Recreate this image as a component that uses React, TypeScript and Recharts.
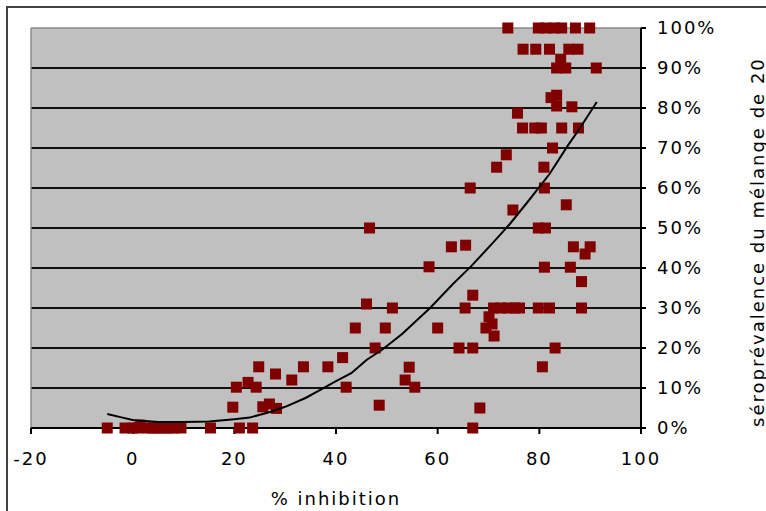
import React from 'react';
import { ScatterChart, Scatter, XAxis, YAxis, CartesianGrid, ReferenceLine, Label } from 'recharts';

const inhibition = [
  -5, -1.5, 0, 1, 1.5, 3, 4, 5, 6, 7, 8, 9.5, 15.3, 21, 23.6, 66.9,
  19.7, 20.4, 22.7, 24.3, 24.8, 25.6, 26.9, 28.3, 28.1, 31.3, 33.6, 38.4, 41.3, 42,
  43.8, 46, 46.6, 47.7, 48.5, 49.7, 51.1, 53.6, 54.4, 55.5, 58.3, 60, 62.7, 64.2,
  65.4, 65.5, 66.4, 66.9, 66.9, 68.3, 69.5, 70.1, 70.7, 71.1, 71, 72.4, 71.6, 73.8,
  73.5, 73.8, 74.8, 75.2, 76.1, 75.7, 76.7, 76.8, 79.1, 80.4, 79.3, 79.8, 81.3, 82.9,
  84.4, 87.1, 89.9, 82, 85.8, 87.6, 84.2, 83.4, 85.2, 91.2, 83.4, 82.3, 83.4, 86.4,
  84.4, 87.7, 82.6, 80.9, 81, 85.3, 79.8, 81.2, 86.7, 90, 89, 81, 86.1, 88.3,
  79.8, 82, 88.3, 83.1, 80.6,
];
const seroprevalence = [
  0, 0, 0, 0, 0.7, 0, 0, 0, 0, 0, 0, 0, 0, 0, 0, 0,
  5.2, 10.2, 11.4, 10.2, 15.3, 5.3, 6, 4.9, 13.5, 12, 15.3, 15.3, 17.6, 10.2,
  25, 31, 50, 20, 5.7, 25, 30, 12, 15.2, 10.2, 40.3, 25, 45.3, 20,
  30, 45.7, 60, 33.2, 20, 5, 25, 27.8, 26, 23, 30, 30, 65.2, 30,
  68.3, 100, 54.5, 30, 30, 78.7, 75, 94.7, 75, 75, 94.7, 100, 100, 100,
  100, 100, 100, 94.7, 94.7, 94.7, 92.2, 90, 90, 90, 83.2, 82.6, 80.5, 80.3,
  75, 75, 70, 65.2, 60, 55.8, 50, 50, 45.3, 45.3, 43.5, 40.2, 40.2, 36.6,
  30, 30, 30, 20, 15.3,
];

const trendX = [-5, -2, 0, 5, 10, 15, 20, 23, 27, 30, 34, 37, 40, 43, 46, 49, 53, 58.5, 63, 66.7, 71.3, 74.2, 78, 82, 85.6, 88, 91.3];
const trendY = [3.5, 2.6, 2, 1.5, 1.5, 1.6, 2.2, 2.6, 4, 5.3, 7.5, 9.6, 11.7, 13.7, 17, 19.5, 23.5, 30, 36, 40.6, 46.9, 51, 57, 63.5, 70.6, 75, 81.5];

const xTicks = [-20, 0, 20, 40, 60, 80, 100];
const yTicks = [0, 10, 20, 30, 40, 50, 60, 70, 80, 90, 100];
const gridValues = [10, 20, 30, 40, 50, 60, 70, 80, 90];

const xTitle = '% inhibition';
const yTitle = 'séroprévalence du mélange de 20';

const points = inhibition.map((x, i) => ({ x, y: seroprevalence[i] }));
const trend = trendX.map((x, i) => ({ x, y: trendY[i] }));

const FONT = 'DejaVu Sans, Verdana, sans-serif';

const Square = (p: any) => (
  <rect x={p.cx - 5.5} y={p.cy - 5.5} width={11} height={11} fill="#800000" />
);
const NoShape = () => <g />;

export default function App() {
  return (
    <div style={{ position: 'absolute', left: 0, top: 0, width: 766, height: 511, overflow: 'hidden', background: '#fff' }}>
      <div style={{ position: 'absolute', left: 6, top: 6, width: 800, height: 560, borderLeft: '2px solid #404040', borderTop: '2px solid #404040' }} />
      <div style={{ position: 'absolute', left: 0, top: 0 }}>
        <ScatterChart width={766} height={511} margin={{ top: 28, right: 0, bottom: 0, left: 31 }}>
          <CartesianGrid
            fill="#C0C0C0"
            fillOpacity={1}
            vertical={false}
            horizontal={{ stroke: '#111', strokeWidth: 2.2, strokeOpacity: 1 } as any}
            horizontalValues={gridValues}
            stroke="#111"
            strokeWidth={2.2}
          />
          <ReferenceLine x={-20} stroke="#8a8a8a" strokeWidth={1.5} />
          <ReferenceLine y={100} stroke="#8a8a8a" strokeWidth={1.5} />
          <XAxis
            type="number"
            dataKey="x"
            domain={[-20, 100]}
            ticks={xTicks}
            allowDataOverflow
            height={83}
            tickSize={6}
            tickMargin={18}
            axisLine={{ stroke: '#000', strokeWidth: 2 }}
            tickLine={{ stroke: '#000', strokeWidth: 2 }}
            tick={{ fontSize: 18, fill: '#000', fontFamily: FONT, letterSpacing: 2 }}
          >
            <Label
              content={(props: any) => {
                const vb = props.viewBox;
                return (
                  <text x={vb.x + vb.width / 2} y={vb.y + 77} textAnchor="middle" fontSize={18} fontFamily={FONT} letterSpacing={2} fill="#000">
                    {xTitle}
                  </text>
                );
              }}
            />
          </XAxis>
          <YAxis
            type="number"
            dataKey="y"
            orientation="right"
            domain={[0, 100]}
            ticks={yTicks}
            width={125}
            tickSize={5}
            tickMargin={11}
            tickFormatter={(v: number) => `${v}%`}
            axisLine={{ stroke: '#000', strokeWidth: 2 }}
            tickLine={{ stroke: '#000', strokeWidth: 2 }}
            tick={{ fontSize: 18, fill: '#000', fontFamily: FONT, letterSpacing: 2, textAnchor: 'start' }}
          >
            <Label
              content={(props: any) => {
                const vb = props.viewBox;
                const tx = vb.x + vb.width - 2;
                const ty = vb.y + vb.height - 1;
                return (
                  <text x={tx} y={ty} transform={`rotate(-90, ${tx}, ${ty})`} textAnchor="start" fontSize={18} fontFamily={FONT} letterSpacing={2} fill="#000">
                    {yTitle}
                  </text>
                );
              }}
            />
          </YAxis>
          <Scatter data={points} shape={Square} isAnimationActive={false} />
          <Scatter data={trend} shape={NoShape} line={{ stroke: '#000', strokeWidth: 2 }} lineType="joint" isAnimationActive={false} />
        </ScatterChart>
      </div>
    </div>
  );
}
